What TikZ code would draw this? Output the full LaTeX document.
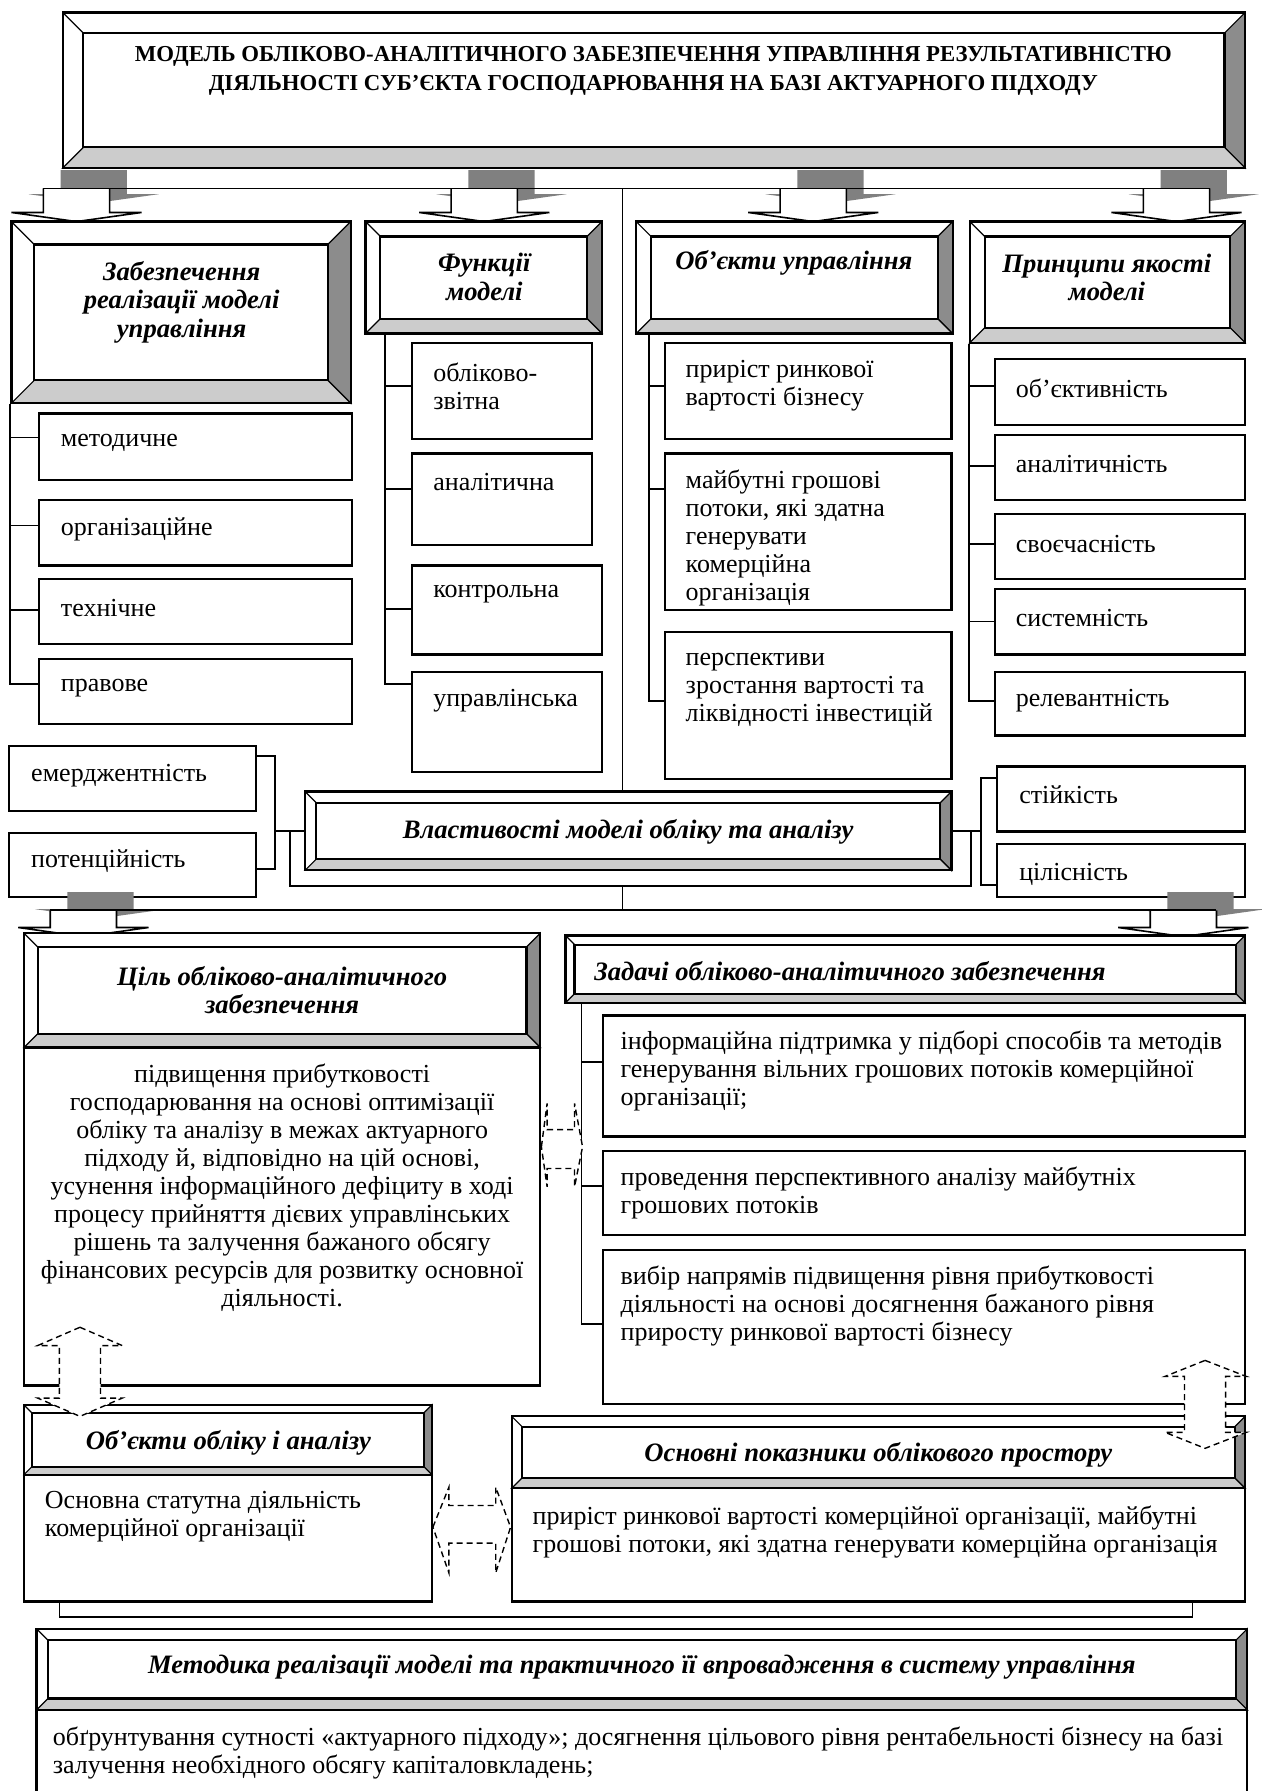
\documentclass[tikz,border=0pt]{standalone}
\usepackage{fontspec}
\setmainfont{Liberation Serif}
\usetikzlibrary{fit,calc}
\definecolor{dkg}{gray}{0.55}
\definecolor{ltg}{gray}{0.8}
\definecolor{shd}{gray}{0.5}
% bevelled box: name, x1, y1, x2, y2, bevel
\newcommand\bev[6]{%
  \fill[white] (#2,#3) rectangle (#4,#5);
  \filldraw[fill=dkg,thinl] (#4,#3) -- ({#4-#6},{#3+#6}) -- ({#4-#6},{#5-#6}) -- (#4,#5) -- cycle;
  \filldraw[fill=ltg,thinl] (#2,#5) -- ({#2+#6},{#5-#6}) -- ({#4-#6},{#5-#6}) -- (#4,#5) -- cycle;
  \draw[thinl] (#2,#3) -- ({#2+#6},{#3+#6});
  \draw[frame] ({#2+#6},{#3+#6}) rectangle ({#4-#6},{#5-#6});
  \node[draw,frame,inner sep=0pt,fit={(#2,#3) (#4,#5)}] (#1) {};}
% plain box
\newcommand\pb[5]{\node[bx,fit={(#2,#3) (#4,#5)}] (#1) {};}
% block arrow with shadow: cx, ytop, shaft height
\newcommand\barr[3]{%
  \begin{scope}[shift={(#1,#2)}]
  \fill[shd] (-14,-16) -- (-14,{#3-16}) -- (-42,{#3-16}) -- (15,{#3-8}) -- (72,{#3-16}) -- (44,{#3-16}) -- (44,-16) -- cycle;
  \filldraw[fill=white,line width=0.8pt] (-29,0) -- (-29,#3) -- (-57,#3) -- (0,{#3+8}) -- (57,#3) -- (29,#3) -- (29,0);
  \end{scope}}
\begin{document}
\begin{tikzpicture}[x=0.5711pt,y=-0.5711pt,
  frame/.style={line width=1.1pt},
  thinl/.style={line width=0.6pt},
  conn/.style={line width=0.9pt},
  bx/.style={draw,line width=1.1pt,inner sep=0pt,fill=white},
  txt/.style={font=\fontsize{13}{14}\selectfont,inner sep=0pt,anchor=west,align=left,yshift=-1.2pt},
  ctxt/.style={font=\fontsize{13}{14}\selectfont,inner sep=0pt,align=center,yshift=-1.2pt},
  hd/.style={font=\fontsize{13.3}{14.3}\selectfont\bfseries\itshape,inner sep=0pt,align=center,yshift=-0.8pt},
  dsh/.style={dash pattern=on 3pt off 2pt,line width=0.7pt,fill=white}
]
\useasboundingbox (0,0) rectangle (1104,1568);

% ---------- title ----------
\bev{T}{55}{11}{1090}{147}{18}
\node[font=\fontsize{11.4}{14.85}\selectfont\bfseries,align=center,inner sep=0pt] (tT) at (572,62)
 {МОДЕЛЬ ОБЛІКОВО-АНАЛІТИЧНОГО ЗАБЕЗПЕЧЕННЯ УПРАВЛІННЯ РЕЗУЛЬТАТИВНІСТЮ\\ДІЯЛЬНОСТІ СУБ’ЄКТА ГОСПОДАРЮВАННЯ НА БАЗІ АКТУАРНОГО ПІДХОДУ};

% ---------- top arrows ----------
\barr{67}{165}{21}
\barr{424}{165}{21}
\barr{712}{165}{21}
\barr{1030}{165}{21}
\coordinate (bus1l) at (38,165);
\coordinate (bus1r) at (1059,165);
\draw[conn] (bus1l) -- (bus1r);

% ---------- row 2 headers ----------
\bev{A}{10}{194}{307}{353}{20}
\bev{B}{320}{194}{527}{292}{13}
\bev{C}{557}{194}{834}{292}{13}
\bev{D}{849}{194}{1090}{300}{13}
\node[hd] (tA) at (159,263) {Забезпечення\\реалізації моделі\\управління};
\node[hd] (tB) at (424,241) {Функції\\моделі};
\node[hd] (tC) at (695,229) {Об’єкти управління};
\node[hd] (tD) at (969,241.5) {Принципи якості\\моделі};

% ---------- items ----------
\pb{A1}{34}{362}{308}{420}
\pb{A2}{34}{438}{308}{495}
\pb{A3}{34}{507}{308}{564}
\pb{A4}{34}{577}{308}{634}
\pb{B1}{361}{300}{518}{384}
\pb{B2}{361}{397}{518}{477}
\pb{B3}{361}{495}{527}{573}
\pb{B4}{361}{588}{527}{676}
\pb{C1}{582}{300}{833}{384}
\pb{C2}{582}{397}{833}{534}
\pb{C3}{582}{553}{833}{682}
\pb{D1}{871}{314}{1090}{372}
\pb{D2}{871}{381}{1090}{438}
\pb{D3}{871}{450}{1090}{507}
\pb{D4}{871}{516}{1090}{573}
\pb{D5}{871}{588}{1090}{644}

\node[txt] (tA1) at (53,386) {методичне};
\node[txt] (tA2) at (53,461) {організаційне};
\node[txt] (tA3) at (53,530) {технічне};
\node[txt] (tA4) at (53,600) {правове};
\node[txt] (tB1) at (379,336) {обліково-\\звітна};
\node[txt] (tB2) at (379,420) {аналітична};
\node[txt] (tB3) at (379,518) {контрольна};
\node[txt] (tB4) at (379,611) {управлінська};
\node[txt] (tC1) at (600,335.5) {приріст ринкової\\вартості бізнесу};
\node[txt] (tC2) at (600,469) {майбутні грошові\\потоки, які здатна\\генерувати\\комерційна\\організація};
\node[txt] (tC3) at (600,601.5) {перспективи\\зростання вартості та\\ліквідності інвестицій};
\node[txt] (tD1) at (889,338) {об’єктивність};
\node[txt] (tD2) at (889,404) {аналітичність};
\node[txt] (tD3) at (889,474) {своєчасність};
\node[txt] (tD4) at (889,539) {системність};
\node[txt] (tD5) at (889,611) {релевантність};

% ---------- column connectors ----------
\coordinate (As) at (A.south west);
\coordinate (Bs) at ($(B.south west)+(18,0)$);
\coordinate (Cs) at ($(C.south west)+(12,0)$);
\coordinate (Ds) at (D.south west);
\coordinate (cA1) at ($(A1.north west)+(0,22)$);
\coordinate (cA2) at ($(A2.north west)+(0,23)$);
\coordinate (cA3) at ($(A3.north west)+(0,28)$);
\coordinate (cA4) at ($(A4.north west)+(0,23)$);
\coordinate (cB1) at ($(B1.north west)+(0,39)$);
\coordinate (cB2) at ($(B2.north west)+(0,32)$);
\coordinate (cB3) at ($(B3.north west)+(0,39)$);
\coordinate (cB4) at ($(B4.north west)+(0,12)$);
\coordinate (cC1) at ($(C1.north west)+(0,39)$);
\coordinate (cC2) at ($(C2.north west)+(0,32)$);
\coordinate (cC3) at ($(C3.north west)+(0,62)$);
\coordinate (cD1) at ($(D1.north west)+(0,25)$);
\coordinate (cD2) at ($(D2.north west)+(0,28)$);
\coordinate (cD3) at ($(D3.north west)+(0,27)$);
\coordinate (cD4) at ($(D4.north west)+(0,29)$);
\coordinate (cD5) at ($(D5.north west)+(0,27)$);
\draw[conn] (As) -- (As |- cA4) -- (cA4);
\foreach \i in {1,2,3} {\draw[conn] (As |- cA\i) -- (cA\i);}
\draw[conn] (Bs) -- (Bs |- cB4) -- (cB4);
\foreach \i in {1,2,3} {\draw[conn] (Bs |- cB\i) -- (cB\i);}
\draw[conn] (Cs) -- (Cs |- cC3) -- (cC3);
\foreach \i in {1,2} {\draw[conn] (Cs |- cC\i) -- (cC\i);}
\draw[conn] (Ds) -- (Ds |- cD5) -- (cD5);
\foreach \i in {1,2,3,4} {\draw[conn] (Ds |- cD\i) -- (cD\i);}

% ---------- properties row ----------
\bev{V}{267}{693}{833}{762}{10}
\node[hd] (tV) at (550,727) {Властивості моделі обліку та аналізу};
\pb{E1}{8}{653}{224}{710}
\pb{E2}{8}{729}{224}{785}
\pb{S1}{873}{671}{1090}{728}
\pb{S2}{873}{739}{1090}{785}
\node[txt] (tE1) at (27,677) {емерджентність};
\node[txt] (tE2) at (27,752) {потенційність};
\node[txt] (tS1) at (892,694) {стійкість};
\node[txt] (tS2) at (892,763) {цілісність};

\coordinate (sp) at (545,165);
\draw[conn] (sp) -- (sp |- V.north);
\coordinate (cE1) at ($(E1.north east)+(0,10)$);
\coordinate (cE2) at ($(E2.north east)+(0,33)$);
\coordinate (lb) at ($(cE1)+(16,0)$);
\draw[conn] (cE1) -| (lb |- cE2) -- (cE2);
\draw[conn] (lb |- V.west) -- (V.west);
\coordinate (cS1) at ($(S1.north west)+(0,11)$);
\coordinate (cS2) at ($(S2.north west)+(0,37)$);
\coordinate (rb) at ($(cS1)+(-13,0)$);
\draw[conn] (cS1) -| (rb |- cS2) -- (cS2);
\draw[conn] (V.east) -- (rb |- V.east);
\coordinate (uL) at ($(V.west)+(-12,0)$);
\coordinate (uR) at ($(V.east)+(16,0)$);
\coordinate (ub) at ($(uL)+(0,48)$);
\draw[conn] (uL) -- (ub) -| (uR);

% ---------- bottom bus + arrows ----------
\barr{73}{797}{15}
\barr{1036}{797}{15}
\coordinate (bus2l) at (44,797);
\coordinate (bus2r) at (1065,797);
\draw[conn] (bus2l) -- (bus2r);
\draw[conn] (sp |- ub) -- (sp |- bus2l);

% ---------- goal ----------
\bev{G}{21}{817}{473}{917}{12}
\pb{Gb}{21}{917}{473}{1213}
\node[hd] (tG) at (247,865.5) {Ціль обліково-аналітичного\\забезпечення};
\node[ctxt] (tGb) at (247,1038) {підвищення прибутковості\\господарювання на основі оптимізації\\обліку та аналізу в межах актуарного\\підходу й, відповідно на цій основі,\\усунення інформаційного дефіциту в ході\\процесу прийняття дієвих управлінських\\рішень та залучення бажаного обсягу\\фінансових ресурсів для розвитку основної\\діяльності.};

% ---------- tasks ----------
\bev{Z}{495}{819}{1090}{878}{8}
\node[hd,anchor=west] (tZ) at (520,849) {Задачі обліково-аналітичного забезпечення};
\pb{Z1}{528}{889}{1090}{995}
\pb{Z2}{528}{1008}{1090}{1081}
\pb{Z3}{528}{1094}{1090}{1229}
\node[txt] (tZ1) at (543,935.5) {інформаційна підтримка у підборі способів та методів\\генерування вільних грошових потоків комерційної\\організації;};
\node[txt] (tZ2) at (543,1042.5) {проведення перспективного аналізу майбутніх\\грошових потоків};
\node[txt] (tZ3) at (543,1141.5) {вибір напрямів підвищення рівня прибутковості\\діяльності на основі досягнення бажаного рівня\\приросту ринкової вартості бізнесу};
\coordinate (Zs) at ($(Z.south west)+(15,0)$);
\coordinate (cZ1) at ($(Z1.north west)+(0,42)$);
\coordinate (cZ2) at ($(Z2.north west)+(0,31)$);
\coordinate (cZ3) at ($(Z3.north west)+(0,66)$);
\draw[conn] (Zs) -- (Zs |- cZ3) -- (cZ3);
\foreach \i in {1,2} {\draw[conn] (Zs |- cZ\i) -- (cZ\i);}

% ---------- objects / indicators ----------
\bev{O}{21}{1230}{378}{1291}{7}
\pb{Ob}{21}{1291}{378}{1402}
\node[hd] (tO) at (200,1262) {Об’єкти обліку і аналізу};
\node[txt] (tOb) at (39,1326) {Основна статутна діяльність\\комерційної організації};
\bev{P}{448}{1240}{1090}{1303}{9}
\pb{Pb}{448}{1303}{1090}{1402}
\node[hd] (tP) at (769,1272) {Основні показники облікового простору};
\node[txt] (tPb) at (466,1339) {приріст ринкової вартості комерційної організації, майбутні\\грошові потоки, які здатна генерувати комерційна організація};
\coordinate (bl) at ($(Ob.south west)+(32,0)$);
\coordinate (br) at ($(Pb.south east)+(-47,0)$);
\draw[conn] (bl) -- ++(0,13) -| (br);

% ---------- method ----------
\bev{M}{32}{1426}{1092}{1497}{10}
\pb{Mb}{32}{1497}{1092}{1590}
\node[hd] (tM) at (562,1458) {Методика реалізації моделі та практичного її впровадження в систему управління};
\node[txt] (tMb) at (46,1532.5) {обґрунтування сутності «актуарного підходу»; досягнення цільового рівня рентабельності бізнесу на базі\\залучення необхідного обсягу капіталовкладень;};

% ---------- dashed double arrows ----------
\filldraw[dsh] (474,1004) -- (479,966) -- (479,989) -- (503,989) -- (503,966) -- (510,1004) -- (503,1039) -- (503,1023) -- (479,1023) -- (479,1039) -- cycle;
\filldraw[dsh] (70,1162) -- (107,1178) -- (88,1178) -- (88,1224) -- (107,1224) -- (70,1240) -- (33,1224) -- (52,1224) -- (52,1178) -- (33,1178) -- cycle;
\filldraw[dsh] (1055,1191) -- (1091,1205) -- (1073,1205) -- (1073,1254) -- (1091,1254) -- (1055,1268) -- (1020,1254) -- (1037,1254) -- (1037,1205) -- (1020,1205) -- cycle;
\filldraw[dsh] (379,1337) -- (393,1302) -- (393,1318) -- (434,1318) -- (434,1302) -- (447,1337) -- (434,1377) -- (434,1351) -- (393,1351) -- (393,1377) -- cycle;
\end{tikzpicture}
\end{document}
